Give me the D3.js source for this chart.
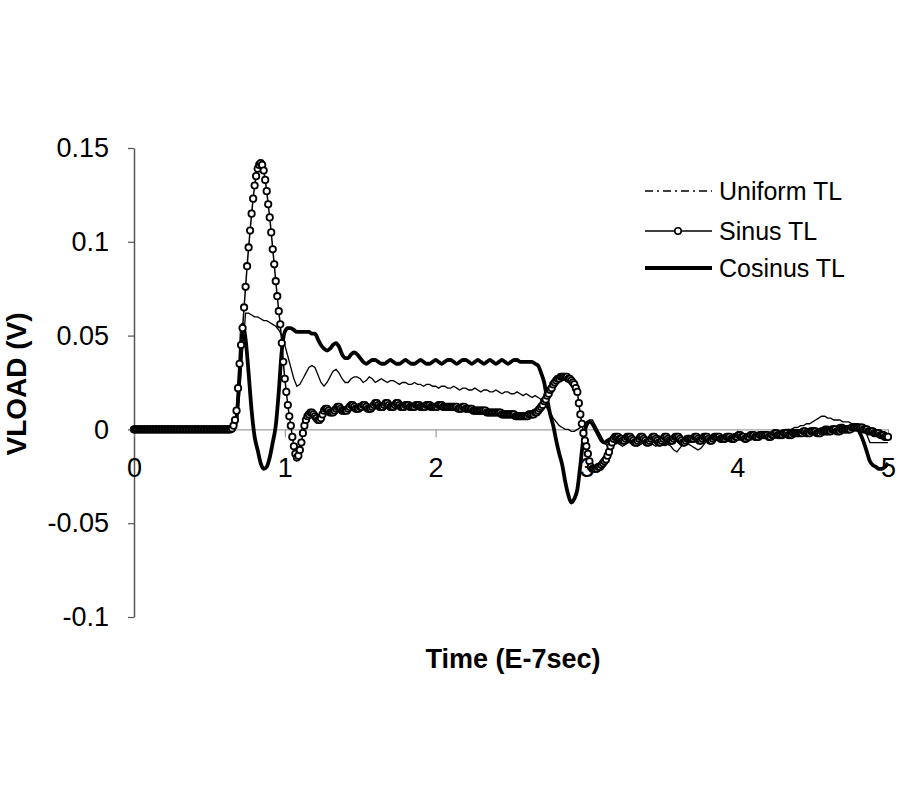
<!DOCTYPE html>
<html>
<head>
<meta charset="utf-8">
<script src="https://cdn.jsdelivr.net/npm/d3@7"></script>
<style>
body { margin: 0; background: #fff; }
text { font-family: "Liberation Sans", Arial, sans-serif; fill: #000; }
</style>
</head>
<body>
<div class="vload-chart"></div>
<script>
var seriesNames = ["Uniform TL", "Sinus TL", "Cosinus TL"];
var xTicks = [0, 1, 2, 3, 4, 5];
var xTickLabels = ["0", "1", "2", "3", "4", "5"];
var yTicks = [0.15, 0.1, 0.05, 0, -0.05, -0.1];
var yTickLabels = ["0.15", "0.1", "0.05", "0", "-0.05", "-0.1"];

// Sinus TL, one sample every 0.01 (E-7 sec), values in mV
var sinusStep = 0.01;
var sinusMv = [
	0,0,0,0,0,0,0,0,0,0,
	0,0,0,0,0,0,0,0,0,0,
	0,0,0,0,0,0,0,0,0,0,
	0,0,0,0,0,0,0,0,0,0,
	0,0,0,0,0,0,0,0,0,0,
	0,0,0,0,0,0,0,0,0,0,
	0,0,0,0,0,0.5,2,5,10,22,
	35,45,54,65,76,87,97,106,115,123,
	130,135,139,141,142,141,138,133,127,120,
	113,105,96,88,79,71,63,56,46,36,
	27,20,13,7,2,-4,-9,-13,-15,-14,
	-11,-7,-2,2,5,7,8,9,9,8,
	7,6,5,5,6,8,10,11,11,10,
	9,9,9,10,11,12,12,11,10,10,
	10,10,11,12,13,13,12,11,11,11,
	12,12,13,13,12,11,11,11,12,13,
	14,14,13,12,12,12,13,14,14,13,
	12,12,12,13,14,14,13,12,12,12,
	13,13,13,12,12,12,12,13,13,13,
	12,12,12,12,13,13,13,12,12,12,
	12,12,13,13,13,12,12,12,12,12,
	12,12,12,12,12,11,11,11,12,12,
	11,11,11,11,11,10,10,10,10,10,
	10,10,10,10,9,9,9,9,9,9,
	9,9,9,9,8,8,8,8,8,8,
	8,8,8,7,7,7,7,7,7,7,
	7,7,8,8,8,8,9,9,10,11,
	12,13,15,16,18,19,21,22,24,25,
	26,27,27,28,28,28,28,28,27,27,
	26,25,24,22,20,14,8,3,-2,-6,
	-9,-13,-17,-20,-21,-21,-21,-21,-20,-20,
	-19,-18,-17,-16,-14,-12,-9,-7,-5,-4,
	-4,-4,-5,-5,-6,-6,-5,-4,-4,-4,
	-5,-6,-7,-7,-6,-5,-4,-4,-5,-6,
	-7,-7,-6,-5,-4,-4,-5,-6,-7,-7,
	-6,-5,-4,-4,-5,-6,-6,-6,-5,-4,
	-4,-4,-5,-6,-7,-7,-6,-5,-5,-5,
	-5,-5,-4,-4,-5,-6,-6,-5,-4,-4,
	-4,-5,-6,-6,-5,-4,-4,-4,-4,-5,
	-5,-5,-5,-4,-4,-4,-5,-5,-5,-4,
	-4,-3,-3,-4,-4,-5,-5,-4,-4,-3,
	-3,-3,-4,-4,-4,-3,-3,-3,-3,-3,
	-3,-4,-4,-3,-3,-2,-2,-3,-3,-3,
	-3,-2,-2,-2,-3,-3,-3,-2,-2,-2,
	-2,-2,-2,-2,-1,-1,-2,-2,-2,-1,
	-1,-1,-1,-2,-2,-2,-1,-1,-1,-1,
	-1,-1,-1,0,0,0,-1,-1,-1,0,
	0,0,0,0,0,0,1,1,1,1,
	1,1,1,1,0,0,0,-1,-1,-1,
	-1,-2,-2,-2,-2,-3,-3,-3,-4,-4,
	-4
];

// Uniform TL and Cosinus TL, one sample every 0.02, values in mV
var lineStep = 0.02;
var uniformMv = [
	0,0,0,0,0,0,0,0,0,0,
	0,0,0,0,0,0,0,0,0,0,
	0,0,0,0,0,0,0,0,0,0,
	0,0,0,0,2,18,42,62,62,61,
	60,60,59,58,58,57,56,55,53,50,
	45,39,33,27,23,24,27,30,33,34,
	33,29,25,23,25,28,31,32,30,27,
	25,25,27,28,28,27,25,26,28,27,
	25,26,27,26,25,26,26,25,24,25,
	25,24,24,25,24,24,23,24,24,23,
	23,22,23,23,22,22,23,22,21,22,
	22,21,21,22,21,20,21,21,20,20,
	21,20,19,20,20,19,19,20,19,18,
	19,18,17,18,17,16,14,11,9,6,
	4,2,1,0,0,-1,-1,0,1,3,
	4,5,5,2,-1,-4,-7,-9,-9,-8,
	-7,-8,-9,-8,-7,-7,-8,-9,-8,-7,
	-6,-7,-8,-9,-8,-7,-7,-8,-9,-11,
	-12,-10,-8,-7,-8,-9,-10,-11,-10,-8,
	-6,-5,-5,-5,-6,-6,-5,-5,-4,-4,
	-4,-4,-3,-3,-3,-3,-3,-2,-2,-2,
	-2,-2,-1,-1,-1,-1,0,0,0,1,
	1,2,2,3,3,4,5,6,7,7,
	6,6,5,5,5,4,4,4,3,3,
	3,2,1,-3,-7,-7,-7,-7,-7,-7,
	-7
];
var cosinusMv = [
	0,0,0,0,0,0,0,0,0,0,
	0,0,0,0,0,0,0,0,0,0,
	0,0,0,0,0,0,0,0,0,0,
	0,0,0,1,6,30,56,48,30,10,
	-4,-11,-18,-21,-20,-15,-7,2,20,42,
	52,54,54,53,52,52,52,52,52,51,
	51,48,45,43,42,43,45,46,44,40,
	38,38,40,41,40,38,36,35,36,37,
	37,36,35,35,36,37,36,35,35,36,
	37,36,35,35,36,37,36,35,35,36,
	37,36,35,36,37,37,36,35,36,37,
	37,36,35,36,37,36,35,36,37,36,
	35,36,37,36,35,36,37,37,36,36,
	36,36,36,35,34,30,25,16,8,2,
	-6,-13,-19,-28,-35,-39,-37,-32,-19,-5,
	2,4,3,0,-3,-6,-7,-6,-5,-6,
	-7,-6,-4,-4,-5,-7,-8,-6,-4,-5,
	-7,-8,-6,-4,-4,-6,-8,-7,-5,-4,
	-5,-7,-7,-5,-4,-5,-6,-6,-4,-3,
	-4,-6,-6,-5,-4,-4,-5,-5,-4,-3,
	-3,-4,-5,-4,-3,-3,-4,-4,-3,-2,
	-2,-3,-4,-3,-2,-1,-2,-3,-2,-1,
	-1,-2,-2,-1,0,0,-1,-1,0,1,
	1,0,0,1,2,2,1,1,1,1,
	0,-3,-7,-12,-17,-19,-20,-21,-21,-20,
	-18
];

function toPoints(values, step) {
	return values.map(function(v, i) {
		return {t: i * step, v: v / 1000};
	});
}

var uniform = toPoints(uniformMv, lineStep);
var sinus = toPoints(sinusMv, sinusStep);
var cosinus = toPoints(cosinusMv, lineStep);

function drawChart() {
	var sel = d3.select(".vload-chart").html("");
	var width = 900, height = 800;

	var svg = sel.append("svg")
		.attr("width", width)
		.attr("height", height);

	var x = d3.scaleLinear().domain([0, 5]).range([134, 888]);
	var y = d3.scaleLinear().domain([-0.1, 0.15]).range([617, 148]);

	// y axis on the left edge
	var yAxis = d3.axisLeft(y)
		.tickValues(yTicks)
		.tickFormat(function(d, i) { return yTickLabels[i]; })
		.tickSize(6)
		.tickSizeOuter(0)
		.tickPadding(19);

	var gy = svg.append("g")
		.attr("transform", "translate(" + x(0) + ",0)")
		.call(yAxis);
	gy.select(".domain").attr("stroke", "#555").attr("stroke-width", 1.5);
	gy.selectAll(".tick line").attr("stroke", "#555").attr("stroke-width", 1.2);
	gy.selectAll("text").style("font-size", "27px").attr("fill", "#000");

	// x axis runs along zero
	var xAxis = d3.axisBottom(x)
		.tickValues(xTicks)
		.tickFormat(function(d, i) { return xTickLabels[i]; })
		.tickSize(8)
		.tickSizeOuter(0)
		.tickPadding(20);

	var gx = svg.append("g")
		.attr("transform", "translate(0," + y(0) + ")")
		.call(xAxis);
	gx.select(".domain").attr("stroke", "#888").attr("stroke-width", 1);
	gx.selectAll(".tick line").attr("stroke", "#888").attr("stroke-width", 1);
	gx.selectAll("text").style("font-size", "27px").attr("fill", "#000");

	var line = d3.line()
		.x(function(d) { return x(d.t); })
		.y(function(d) { return y(d.v); });

	svg.append("path")
		.datum(uniform)
		.attr("fill", "none")
		.attr("stroke", "#000")
		.attr("stroke-width", 1.3)
		.attr("d", line);

	svg.append("path")
		.datum(cosinus)
		.attr("fill", "none")
		.attr("stroke", "#000")
		.attr("stroke-width", 3.8)
		.attr("stroke-linejoin", "round")
		.attr("d", line.curve(d3.curveMonotoneX));

	svg.append("path")
		.datum(sinus)
		.attr("fill", "none")
		.attr("stroke", "#000")
		.attr("stroke-width", 1.5)
		.attr("d", line.curve(d3.curveLinear));

	svg.append("g").selectAll("circle")
		.data(sinus)
		.join("circle")
		.attr("cx", function(d) { return x(d.t); })
		.attr("cy", function(d) { return y(d.v); })
		.attr("r", 3.2)
		.attr("fill", "#fff")
		.attr("stroke", "#000")
		.attr("stroke-width", 1.8);

	// axis titles
	svg.append("text")
		.attr("transform", "translate(26,384) rotate(-90)")
		.attr("text-anchor", "middle")
		.style("font-size", "28px")
		.style("font-weight", "bold")
		.text("VLOAD (V)");

	svg.append("text")
		.attr("x", 513)
		.attr("y", 668)
		.attr("text-anchor", "middle")
		.style("font-size", "27px")
		.style("font-weight", "bold")
		.text("Time (E-7sec)");

	// legend
	var legend = svg.append("g").attr("transform", "translate(645,0)");
	var rowY = [191, 231, 268];
	var rows = legend.selectAll("g")
		.data(seriesNames)
		.join("g")
		.attr("transform", function(d, i) { return "translate(0," + rowY[i] + ")"; });

	rows.append("line")
		.attr("x1", 0).attr("x2", 67)
		.attr("stroke", "#000")
		.attr("stroke-width", function(d, i) { return i == 2 ? 3.8 : 1.3; })
		.attr("stroke-dasharray", function(d, i) { return i == 0 ? "8,4,2,4" : null; });

	rows.filter(function(d, i) { return i == 1; })
		.append("circle")
		.attr("cx", 33).attr("r", 3.2)
		.attr("fill", "#fff").attr("stroke", "#000").attr("stroke-width", 1.6);

	rows.append("text")
		.attr("x", 74)
		.attr("dy", "0.35em")
		.style("font-size", "25px")
		.text(function(d) { return d; });
}

drawChart();
</script>
</body>
</html>
